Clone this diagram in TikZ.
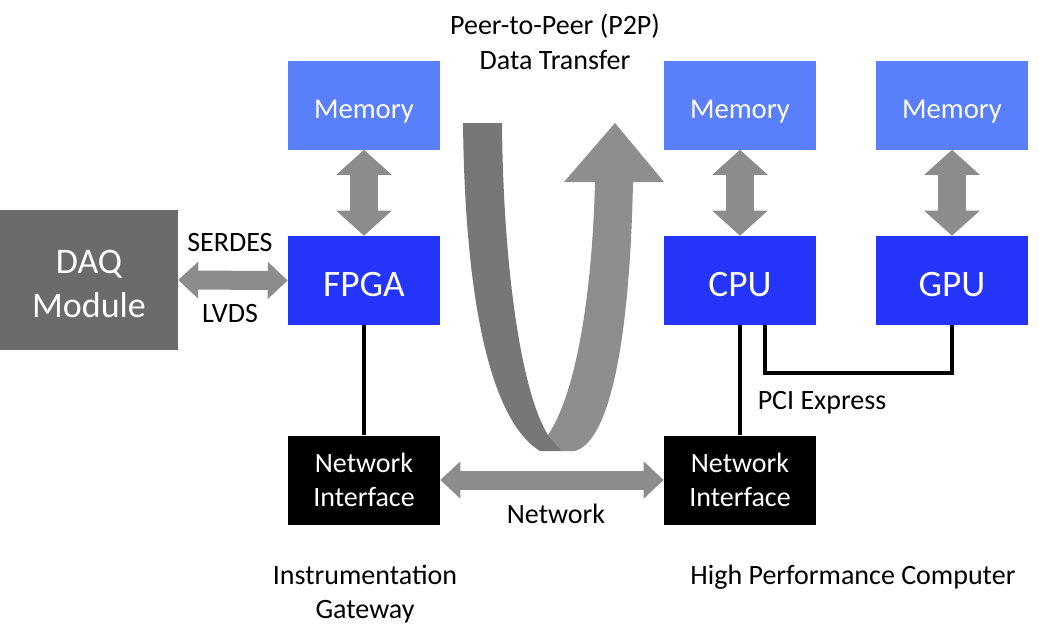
\documentclass[tikz,border=0pt]{standalone}
\usepackage{fontspec}
\setmainfont{Carlito}
\usetikzlibrary{arrows.meta}
\definecolor{memblue}{HTML}{5A7FFA}
\definecolor{chipblue}{HTML}{2435F9}
\definecolor{daqgray}{HTML}{6B6B6B}
\definecolor{arrgray}{HTML}{8C8C8C}
\definecolor{uleft}{HTML}{777777}
\definecolor{uright}{HTML}{8E8E8E}
\newcommand{\memtxt}{\raisebox{0pt}[19.5pt][0pt]{Memory}}
\newcommand{\chiptxt}[1]{\raisebox{0pt}[23.25pt][0pt]{#1}}
\begin{document}
\begin{tikzpicture}[x=0.75pt,y=-0.75pt,
  box/.style={rectangle,inner sep=0pt,minimum width=114pt,minimum height=66.75pt,text=white,align=center},
  membox/.style={box,fill=memblue,font=\fontsize{21.5}{25}\selectfont},
  chipbox/.style={box,fill=chipblue,font=\fontsize{28}{32}\selectfont},
  netbox/.style={box,fill=black,font=\fontsize{21}{25.5}\selectfont},
  lbl/.style={inner sep=0pt,align=center,font=\fontsize{21}{25}\selectfont},
  bigarr/.style={draw=arrgray,line width=21pt,{Triangle[width=40.5pt,length=18.75pt]}-{Triangle[width=40.5pt,length=18.75pt]}},
  smallarr/.style={draw=arrgray,line width=14.25pt,{Triangle[width=27pt,length=15pt]}-{Triangle[width=27pt,length=15pt]}},
  bus/.style={draw=black,line width=3pt}]
\useasboundingbox (0,0) rectangle (1039,637);
% U-shaped P2P arrow
\fill[uright] (548,435) .. controls (575,395) and (592,300) .. (595,182) -- (564,182) -- (615,123) -- (664,182) -- (633,182)
  .. controls (630,330) and (612,440) .. (575,451) -- (562,451) -- cycle;
\fill[uleft] (463,123) -- (502,123) .. controls (503,260) and (520,390) .. (548,435) -- (562,451) -- (540,451)
  .. controls (490,420) and (465,300) .. cycle;
% boxes
\node[box,fill=daqgray,minimum width=133.5pt,minimum height=105pt,font=\fontsize{27}{33}\selectfont] (daq) at (89,280)
  {\raisebox{0pt}[55.5pt][0pt]{\begin{tabular}[b]{@{}c@{}}DAQ\\Module\end{tabular}}};
\node[membox] (memF) at (364,105) {\memtxt};
\node[chipbox] (fpga) at (364,280.5) {\chiptxt{FPGA}};
\node[membox] (memC) at (740,105) {\memtxt};
\node[chipbox] (cpu) at (740,280.5) {\chiptxt{CPU}};
\node[membox] (memG) at (952,105) {\memtxt};
\node[chipbox] (gpu) at (952,280.5) {\chiptxt{GPU}};
\node[netbox] (niL) at (364,480) {Network\\Interface};
\node[netbox] (niR) at (740,480) {Network\\Interface};
% connectors
\draw[bigarr] (memF.south) -- (fpga.north);
\draw[bigarr] (memC.south) -- (cpu.north);
\draw[bigarr] (memG.south) -- (gpu.north);
\draw[smallarr] (daq.east) -- (fpga.west);
\draw[smallarr] (niL.east) -- (niR.west);
\draw[bus] (fpga.south) -- (niL.north);
\draw[bus] (cpu.south) -- (niR.north);
\draw[bus,line join=miter] ([xshift=18.75pt]cpu.south) -- ++(0,48) -| (gpu.south);
% labels
\node[lbl] (p2p) at (555,42) {Peer-to-Peer (P2P)\\[1pt]Data Transfer};
\node[lbl] (serdes) at (230,243) {SERDES};
\node[lbl] (lvds) at (230,314) {LVDS};
\node[lbl] (pcie) at (822,403) {PCI Express};
\node[lbl] (net) at (556,514) {Network};
\node[lbl] (gw) at (365,594) {Instrumentation\\Gateway};
\node[lbl] (hpc) at (853,577) {High Performance Computer};
\end{tikzpicture}
\end{document}
